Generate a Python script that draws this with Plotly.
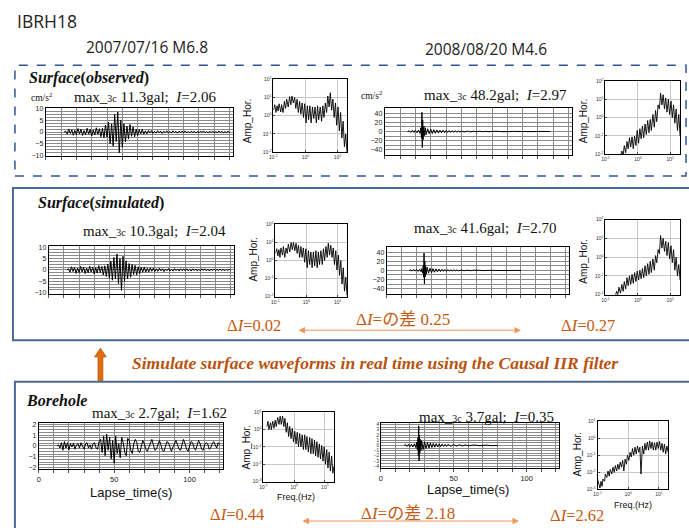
import plotly.graph_objects as go

# ---------------- data ----------------
# left-event waveforms: peaks sampled every 1 s from 12 s to 120 s
T_LEFT = list(range(12, 121))

OBS_L = [0, 0.4, -0.9, 1.3, -0.6, 1.0, -1.4, 0.7, -1.1, 1.5,
         -0.8, 1.2, -1.5, 0.6, -1.2, 1.6, -0.9, 1.1, -1.7, 0.9,
         -1.3, 1.8, -1.0, 1.4, -2.0, 1.6, -2.4, 3.0, -2.2, 4.2,
         -5.0, 3.5, -6.0, 7.5, -4.0, 8.5, -8.8, 5.0, -6.5, 3.5,
         -4.2, 2.5, -3.0, 3.2, -1.8, 2.2, -2.0, 1.2, -1.5, 1.0,
         -0.7, 1.1, -0.9, 0.5, -0.8, 0.7, -0.4, 0.6, -0.6, 0.3,
         -0.5, 0.6, -0.3, 0.4, -0.6, 0.3, -0.2, 0.5, -0.4, 0.2,
         -0.4, 0.5, -0.2, 0.3, -0.5, 0.4, -0.2, 0.4, -0.3, 0.5,
         -0.3, 0.2, -0.4, 0.4, -0.2, 0.3, -0.4, 0.2, -0.3, 0.4,
         -0.2, 0.5, -0.3, 0.2, -0.4, 0.3, -0.2, 0.4, -0.3, 0.2,
         -0.3, 0.4, -0.2, 0.3, -0.4, 0.2, -0.3, 0.3, -0.2]

SIM_L = [0, 0.5, -1.0, 1.4, -0.7, 1.1, -1.5, 0.8, -1.2, 1.6,
         -0.9, 1.3, -1.6, 0.8, -1.3, 1.7, -1.0, 1.2, -1.8, 1.0,
         -1.4, 1.9, -1.2, 1.6, -2.2, 1.8, -2.8, 2.6, -3.6, 3.8,
         -4.5, 5.5, -4.0, 7.0, -6.0, 5.0, -9.0, 6.0, -5.0, 4.0,
         -4.0, 2.8, -3.2, 2.4, -2.0, 2.0, -2.2, 1.4, -1.6, 1.2,
         -1.0, 1.2, -1.0, 0.7, -0.9, 0.9, -0.6, 0.8, -0.7, 0.5,
         -0.6, 0.7, -0.4, 0.5, -0.7, 0.4, -0.3, 0.6, -0.5, 0.3,
         -0.5, 0.6, -0.3, 0.4, -0.5, 0.5, -0.3, 0.5, -0.4, 0.5,
         -0.4, 0.3, -0.5, 0.5, -0.3, 0.4, -0.5, 0.3, -0.4, 0.5,
         -0.3, 0.5, -0.4, 0.3, -0.5, 0.4, -0.3, 0.4, -0.3, 0.3,
         -0.4, 0.4, -0.3, 0.3, -0.4, 0.3, -0.3, 0.3, -0.2]

BORE_L = [0, 0.1, -0.2, 0.3, -0.4, 0.4, -0.2, 0.3, -0.35, 0.2,
          -0.1, 0.25, -0.3, 0.1, 0.2, -0.2, 0.3, -0.1, -0.3, 0.2,
          0.3, -0.2, 0.1, -0.3, 0.2, 0.3, -0.2, -0.3, 0.4, 0.6,
          -0.6, 0.9, -0.9, 1.1, -0.4, 0.8, -1.2, 0.5, -1.6, 0.9,
          -0.7, 0.2, -1.1, 0.8, 0.3, -0.6, -0.9, 0.7, 0.5, -0.4,
          -0.7, 0.2, 0.6, 0.3, -0.5, -0.6, 0.1, 0.5, 0.2, -0.3,
          -0.5, -0.1, 0.4, 0.6, 0.1, -0.4, -0.3, 0.2, 0.5, 0.1,
          -0.4, -0.5, 0.1, 0.4, 0.3, -0.2, -0.5, -0.1, 0.3, 0.5,
          0.1, -0.3, -0.4, 0.2, 0.6, 0.2, -0.3, -0.5, 0.0, 0.4,
          0.3, -0.2, -0.4, 0.1, 0.5, 0.2, -0.3, -0.4, 0.1, 0.3,
          0.2, -0.3, -0.2, 0.2, 0.4, 0.1, -0.2, 0.3, 0.1]

# right-event waveforms: (time s, acceleration) peaks
OBS_R = [(15, 0), (16, 1.5), (17, -2), (18, 2.5), (19, -2), (20, 3), (21, -2.5), (22, 3), (23, -4),
         (23.5, 8), (24, -15), (24.25, 42), (24.5, -35), (24.75, 25), (25, -18), (25.5, 12), (26, -9),
         (26.5, 8), (27, -7), (28, 6), (29, -5), (30, 5), (31, -4.5), (32, 4), (33, -4), (34, 3.5),
         (35, -3.5), (36, 3), (37, -3), (38, 3), (39, -2.5), (40, 2.5), (41, -2), (42, 2), (43, -2),
         (44, 1.8), (45, -1.5), (46, 1.5), (47, -1.5), (48, 1.2), (49, -1.2), (50, 1), (52, -1),
         (54, 0.8), (56, -0.8), (58, 0.7), (60, -0.6), (62, 0.6), (64, -0.5), (66, 0.5), (68, -0.4),
         (70, 0.4), (72, -0.4), (74, 0.3), (76, -0.3), (78, 0.3), (80, -0.3), (84, 0.3), (88, -0.2),
         (92, 0.2), (96, -0.2), (100, 0.2), (104, -0.2), (108, 0)]

SIM_R = [(15, 0), (16, 1), (17, -1.5), (18, 2), (19, -1.5), (20, 2), (21, -2), (22, 2.5), (23, -3),
         (23.5, 4), (24, -6), (24.5, 12), (24.75, -15), (25, 38), (25.25, -30), (25.5, 20), (25.75, -14),
         (26, 10), (26.5, -8), (27, 7), (28, -6), (29, 5), (30, -5), (31, 4), (32, -4), (33, 3.5),
         (34, -3), (35, 3), (36, -2.5), (37, 2.5), (38, -2), (39, 2), (40, -2), (41, 1.8), (42, -1.5),
         (43, 1.5), (44, -1.2), (45, 1.2), (46, -1), (47, 1), (48, -0.8), (50, 0.7), (52, -0.6),
         (54, 0.5), (56, -0.5), (58, 0.4), (60, -0.4), (62, 0.3), (64, -0.3), (66, 0.3), (68, -0.3),
         (70, 0.2), (74, -0.2), (78, 0.2), (82, -0.2), (86, 0.2), (90, 0)]

BORE_R = [(16, 0), (17, 0.15), (18, -0.2), (19, 0.2), (20, -0.25), (21, 0.2), (22, -0.3), (23, 0.3),
          (24, -0.4), (24.5, 0.6), (25, -0.8), (25.5, 1.5), (25.75, -2), (26, 3.8), (26.25, -3.0),
          (26.5, 2.0), (26.75, -1.5), (27, 1.2), (27.5, -1.0), (28, 0.9), (29, -0.8), (30, 0.7),
          (31, -0.6), (32, 0.6), (33, -0.5), (34, 0.5), (35, -0.4), (36, 0.4), (37, -0.35), (38, 0.35),
          (39, -0.3), (40, 0.3), (41, -0.25), (42, 0.25), (43, -0.2), (44, 0.2), (45, -0.2), (46, 0.2),
          (48, -0.15), (50, 0.15), (52, -0.12), (54, 0.12), (56, -0.1), (58, 0.1), (60, -0.08),
          (64, 0.08), (68, -0.06), (72, 0.06), (76, -0.05), (80, 0)]

# Fourier spectra (Amp_Hor.) at these frequencies (Hz)
FREQ = [0.10, 0.11, 0.12, 0.13, 0.14, 0.15, 0.17, 0.18, 0.20, 0.22, 0.24, 0.26, 0.29, 0.32, 0.35,
        0.38, 0.42, 0.46, 0.50, 0.55, 0.60, 0.66, 0.72, 0.79, 0.87, 0.95, 1.05, 1.15, 1.26, 1.38,
        1.51, 1.66, 1.82, 2.0, 2.2, 2.4, 2.6, 2.9, 3.2, 3.5, 3.8, 4.2, 4.6, 5.0, 5.5, 6.0, 6.6, 7.2,
        7.9, 8.7, 9.5, 10.5, 11.5, 12.6, 13.8, 15.1, 16.6, 18.2, 20.0]

SPEC_OBS_L = [2.0, 4.0, 1.5, 3.5, 1.8, 4.5, 1.6, 4.0, 1.5, 6.0, 2.5, 8.0, 3.0, 11.0, 4.0,
              12.0, 5.0, 10.0, 2.5, 8.0, 1.5, 6.0, 1.2, 5.0, 0.8, 4.5, 0.4, 3.5, 0.6, 3.5,
              0.4, 3.0, 0.7, 3.0, 0.4, 3.5, 0.6, 3.0, 0.5, 3.5, 0.8, 5.0, 1.5, 12.0, 3.0, 18.0, 2.0, 8.0,
              0.8, 5.0, 0.3, 3.0, 0.15, 1.5, 0.06, 0.5, 0.02, 0.1, 0.01]
SPEC_SIM_L = [2.5, 4.5, 1.8, 4.0, 1.5, 5.0, 2.0, 6.0, 1.5, 5.0, 2.5, 8.0, 3.0, 10.0, 4.0,
              10.0, 3.5, 9.0, 2.5, 7.0, 1.5, 6.0, 1.5, 5.0, 0.8, 4.5, 0.4, 3.5, 0.6, 3.0,
              0.4, 3.0, 0.5, 3.5, 0.4, 3.0, 0.6, 3.5, 0.6, 4.5, 1.0, 6.0, 1.5, 9.0, 2.0, 7.0, 1.5, 5.0,
              0.6, 3.5, 0.3, 2.0, 0.15, 1.0, 0.05, 0.4, 0.02, 0.12, 0.012]
SPEC_OBS_R = [None, None, None, None, None, None, None, None, None, None, None, None,
              0.008, 0.015, 0.009, 0.03, 0.012, 0.05, 0.02, 0.08, 0.025, 0.09,
              0.02, 0.1, 0.03, 0.2, 0.04, 0.25, 0.07, 0.35, 0.08, 0.45,
              0.12, 0.7, 0.15, 0.8, 0.2, 1.5, 0.3, 2.5, 0.6, 5.0,
              3.0, 22.0, 5.0, 18.0, 3.0, 12.0, 2.0, 10.0, 1.5, 8.0,
              1.0, 5.0, 0.5, 3.0, 0.2, 1.5, 0.1]
SPEC_SIM_R = [None, None, None, None, None, None, None, None,
              0.008, 0.015, 0.01, 0.025, 0.012, 0.035, 0.015, 0.05, 0.02, 0.08,
              0.03, 0.1, 0.035, 0.12, 0.04, 0.15, 0.05, 0.18, 0.06, 0.2,
              0.07, 0.25, 0.08, 0.35, 0.1, 0.45, 0.12, 0.6, 0.15, 0.8,
              0.2, 1.2, 0.5, 2.5, 1.5, 14.0, 3.0, 10.0, 2.0, 7.0,
              1.2, 6.0, 0.8, 4.0, 0.5, 2.5, 0.2, 1.0, 0.1, 0.4, 0.06]
SPEC_BORE_L = [None, None, None,
               1.5, 3.0, 1.0, 2.5, 1.0, 3.0, 1.2, 3.5, 1.5, 5.0,
               2.0, 6.0, 2.0, 6.0, 1.5, 4.5, 0.7, 2.5, 0.4, 1.5,
               0.3, 1.2, 0.2, 0.8, 0.15, 0.7, 0.1, 0.6, 0.1, 0.5,
               0.07, 0.5, 0.07, 0.4, 0.05, 0.35, 0.04, 0.3, 0.04, 0.25,
               0.03, 0.2, 0.025, 0.15, 0.02, 0.12, 0.015, 0.1, 0.01, 0.07,
               0.006, 0.05, 0.004, 0.03, 0.003, 0.008]
SPEC_BORE_R = [0.004, 0.002, 0.0012, 0.003, 0.0015, 0.004, 0.003, 0.008, 0.005, 0.012,
               0.006, 0.015, 0.008, 0.02, 0.01, 0.025, 0.012, 0.03, 0.015, 0.04,
               0.02, 0.05, 0.012, 0.06, 0.03, 0.1, 0.05, 0.15, 0.08, 0.25,
               0.1, 0.3, 0.12, 0.35, 0.15, 0.3, 0.008, 0.35, 0.12, 0.5,
               0.2, 0.6, 0.2, 0.7, 0.25, 0.6, 0.2, 0.55, 0.2, 0.6,
               0.25, 0.65, 0.2, 0.5, 0.15, 0.45, 0.12, 0.35, 0.15]

# text content
TITLE = "IBRH18"
EVENTS = ["2007/07/16 M6.8", "2008/08/20 M4.6"]
ROWS = ["Surface(observed)", "Surface(simulated)", "Borehole"]
MAXES = [("11.3", "2.06"), ("48.2", "2.97"), ("10.3", "2.04"), ("41.6", "2.70"), ("2.7", "1.62"), ("3.7", "0.35")]
DELTAS = ["0.02", "0.25", "0.27", "0.44", "2.18", "2.62"]
NOTE = "Simulate surface waveforms in real time using the Causal IIR filter"

# ---------------- figure ----------------
W, H = 689, 528
def X(p): return p / W
def Y(p): return 1 - p / H

fig = go.Figure()
layout = dict(width=W, height=H, margin=dict(l=0, r=0, t=0, b=0), autosize=False,
              paper_bgcolor="white", plot_bgcolor="white", showlegend=False)

GRID = "#8a8a8a"
SANS = "Liberation Sans, Arial, sans-serif"
SERIF = "Liberation Serif, Times New Roman, Noto Sans CJK JP, serif"

def wave_panel(i, t, v, box, yr, ydt, yminor, labels, yfont=7):
    x0, y0, x1, y1 = box
    sx = "" if i == 1 else str(i)
    fig.add_trace(go.Scatter(x=t, y=v, mode="lines", line=dict(color="black", width=1.0),
                             xaxis="x" + sx, yaxis="y" + sx, hoverinfo="skip"))
    layout["xaxis" + sx] = dict(domain=[X(x0), X(x1)], range=[0, 122], anchor="y" + sx,
                                showline=True, mirror=True, linecolor="black", linewidth=1,
                                zeroline=False, tickmode="linear", tick0=0, dtick=50,
                                showgrid=True, gridcolor=GRID, gridwidth=0.6,
                                ticks="outside", ticklen=3, tickcolor="#555",
                                showticklabels=labels, tickfont=dict(size=7.5, family=SANS, color="#222"),
                                minor=dict(dtick=10, tick0=0, showgrid=True, gridcolor=GRID, gridwidth=0.6,
                                           ticks="outside", ticklen=3, tickcolor="#555"))
    layout["yaxis" + sx] = dict(domain=[Y(y1), Y(y0)], range=yr, anchor="x" + sx,
                                showline=True, mirror=True, linecolor="black", linewidth=1,
                                zeroline=False, tickmode="linear", tick0=0, dtick=ydt,
                                showgrid=True, gridcolor=GRID, gridwidth=0.6, ticks="",
                                tickfont=dict(size=yfont, family=SANS, color="#222"),
                                minor=dict(dtick=yminor, tick0=0, showgrid=True, gridcolor=GRID, gridwidth=0.5))

def sup(e):
    return "10<sup>%s</sup>" % e

def spec_panel(i, amp, box, ylog):
    x0, y0, x1, y1 = box
    sx = str(i)
    fig.add_trace(go.Scatter(x=FREQ, y=amp, mode="lines", line=dict(color="black", width=0.9),
                             connectgaps=False, xaxis="x" + sx, yaxis="y" + sx, hoverinfo="skip"))
    layout["xaxis" + sx] = dict(domain=[X(x0), X(x1)], type="log", range=[-1, 1.3], anchor="y" + sx,
                                showline=True, mirror=True, linecolor="black", linewidth=1,
                                zeroline=False, showgrid=True, gridcolor="#c8c8c8", gridwidth=0.8,
                                tickvals=[0.1, 1, 10], ticktext=[sup("-1"), sup("0"), sup("1")],
                                ticks="inside", ticklen=2, tickfont=dict(size=5, family=SANS, color="#333"))
    lo, hi = ylog
    vals = [10 ** k for k in range(lo, hi + 1)]
    layout["yaxis" + sx] = dict(domain=[Y(y1), Y(y0)], type="log", range=[lo, hi], anchor="x" + sx,
                                showline=True, mirror=True, linecolor="black", linewidth=1,
                                zeroline=False, showgrid=True, gridcolor="#c8c8c8", gridwidth=0.8,
                                tickvals=vals, ticktext=[sup(str(k)) for k in range(lo, hi + 1)],
                                ticks="inside", ticklen=2, tickfont=dict(size=5, family=SANS, color="#333"))

def unzip(pairs):
    return [p[0] for p in pairs], [p[1] for p in pairs]

wave_panel(1, T_LEFT, OBS_L, (42, 106, 230, 155), [-10.3, 10.3], 5, 1.25, False)
t, v = unzip(OBS_R)
wave_panel(2, t, v, (383, 106, 571, 154), [-52, 52], 20, 10, False)
wave_panel(3, T_LEFT, SIM_L, (45, 246, 231, 294), [-10.4, 10.4], 5, 1.25, False)
t, v = unzip(SIM_R)
wave_panel(4, t, v, (385, 247, 568, 294), [-51, 51], 20, 10, False)
wave_panel(5, T_LEFT, BORE_L, (35, 425, 220, 471), [-2.1, 2.1], 1, 0.25, True)
t, v = unzip(BORE_R)
wave_panel(6, t, v, (379, 425, 558, 470), [-4.3, 4.3], 1, 0.5, True, yfont=4.5)

spec_panel(7, SPEC_OBS_L, (271, 77, 345, 151), (-2, 2))
spec_panel(8, SPEC_OBS_R, (605, 79, 680, 153), (-2, 2))
spec_panel(9, SPEC_SIM_L, (273, 224, 345, 297), (-2, 2))
spec_panel(10, SPEC_SIM_R, (605, 219, 680, 295), (-2, 2))
spec_panel(11, SPEC_BORE_L, (261, 414, 332, 484), (-3, 1))
spec_panel(12, SPEC_BORE_R, (597, 423, 668, 492), (-3, 1))

# ---------------- boxes & arrows ----------------
shapes = [
    dict(type="rect", xref="paper", yref="paper", x0=X(11), x1=X(686), y0=Y(175), y1=Y(63),
         line=dict(color="#2E5597", width=1.5, dash="dash")),
    dict(type="rect", xref="paper", yref="paper", x0=X(9), x1=X(700), y0=Y(341), y1=Y(187),
         line=dict(color="#4A6A96", width=2)),
    dict(type="rect", xref="paper", yref="paper", x0=X(11), x1=X(700), y0=Y(540), y1=Y(383),
         line=dict(color="#4A6A96", width=2)),
]
arrow_pts = [(94.5, 382), (94.5, 358), (91, 358), (97, 349), (103, 358), (99.5, 358), (99.5, 382)]
path = "M " + " L ".join("%.5f,%.5f" % (X(a), Y(b)) for a, b in arrow_pts) + " Z"
shapes.append(dict(type="path", xref="paper", yref="paper", path=path,
                   fillcolor="#E46C0A", line=dict(color="#A0520F", width=0.6)))
layout["shapes"] = shapes

ORANGE = "#C55A11"
anns = []
def ann(x, y, text, size, family=SANS, color="#111", xanchor="left", angle=0):
    anns.append(dict(x=X(x), y=Y(y), xref="paper", yref="paper", text=text, showarrow=False,
                     xanchor=xanchor, yanchor="middle", textangle=angle,
                     font=dict(size=size, family=family, color=color)))

ann(11, 18, TITLE, 17.5, family="Open Sans, sans-serif", color="#222")
ann(80, 45, EVENTS[0], 15.5, family="Open Sans, sans-serif", color="#222")
ann(421, 47, EVENTS[1], 15.5, family="Open Sans, sans-serif", color="#222")

def row_title(name):
    base, paren = name.split("(")
    return "<b><i>%s</i>(<i>%s</i>)</b>" % (base, paren.rstrip(")"))
ann(23, 76, row_title(ROWS[0]), 16, family=SERIF)
ann(32, 202, row_title(ROWS[1]), 16, family=SERIF)
ann(20, 402, "<b><i>%s</i></b>" % ROWS[2], 16, family=SERIF)

ann(25, 95, "cm/s<sup>2</sup>", 9.5, family=SERIF)
ann(357, 93, "cm/s<sup>2</sup>", 9.5, family=SERIF)

def maxtxt(g, i):
    return "max_<span style='font-size:10px'>3c</span> %sgal;  <i>I</i>=%s" % (g, i)
max_pos = [(68, 95), (420, 93), (77, 231), (410, 228), (86, 415), (415, 419)]
for (g, i), (x, y) in zip(MAXES, max_pos):
    ann(x, y, maxtxt(g, i), 15, family=SERIF)

for x, y in [(245, 120), (583, 120), (250, 260), (582, 262), (244, 450), (577, 457)]:
    ann(x, y, "Amp_Hor.", 10, xanchor="center", angle=-90)
ann(294, 500, "Freq.(Hz)", 9, xanchor="center")
ann(633, 508, "Freq.(Hz)", 9, xanchor="center")
ann(128, 495, "Lapse_time(s)", 13, xanchor="center")
ann(467, 492, "Lapse_time(s)", 13, xanchor="center")

ann(373, 364, "<b><i>%s</i></b>" % NOTE, 17.5, family=SERIF, color="#B9520C", xanchor="center")

def dtxt(val, diff=False):
    mid = "の差 " if diff else ""
    return "Δ<i>I</i>=%s%s" % (mid, val)
ann(222, 326, dtxt(DELTAS[0]), 16.5, family=SERIF, color=ORANGE)
ann(352, 320, dtxt(DELTAS[1], True), 17, family=SERIF, color=ORANGE)
ann(558, 326, dtxt(DELTAS[2]), 16.5, family=SERIF, color=ORANGE)
ann(205, 517, dtxt(DELTAS[3]), 16.5, family=SERIF, color=ORANGE)
ann(357, 516, dtxt(DELTAS[4], True), 17, family=SERIF, color=ORANGE)
ann(547, 518, dtxt(DELTAS[5]), 16.5, family=SERIF, color=ORANGE)

for xa, xb, yy in [(296, 520, 331), (300, 518, 524)]:
    anns.append(dict(x=X(xb), y=Y(yy), xref="paper", yref="paper",
                     axref="pixel", ayref="pixel", ax=xa - xb, ay=0, text="", showarrow=True,
                     arrowside="end+start", arrowhead=2, startarrowhead=2,
                     arrowsize=1.3, startarrowsize=1.3, arrowwidth=1, arrowcolor="#F0955A"))

layout["annotations"] = anns
fig.update_layout(**layout)
fig.write_html("out.html")
